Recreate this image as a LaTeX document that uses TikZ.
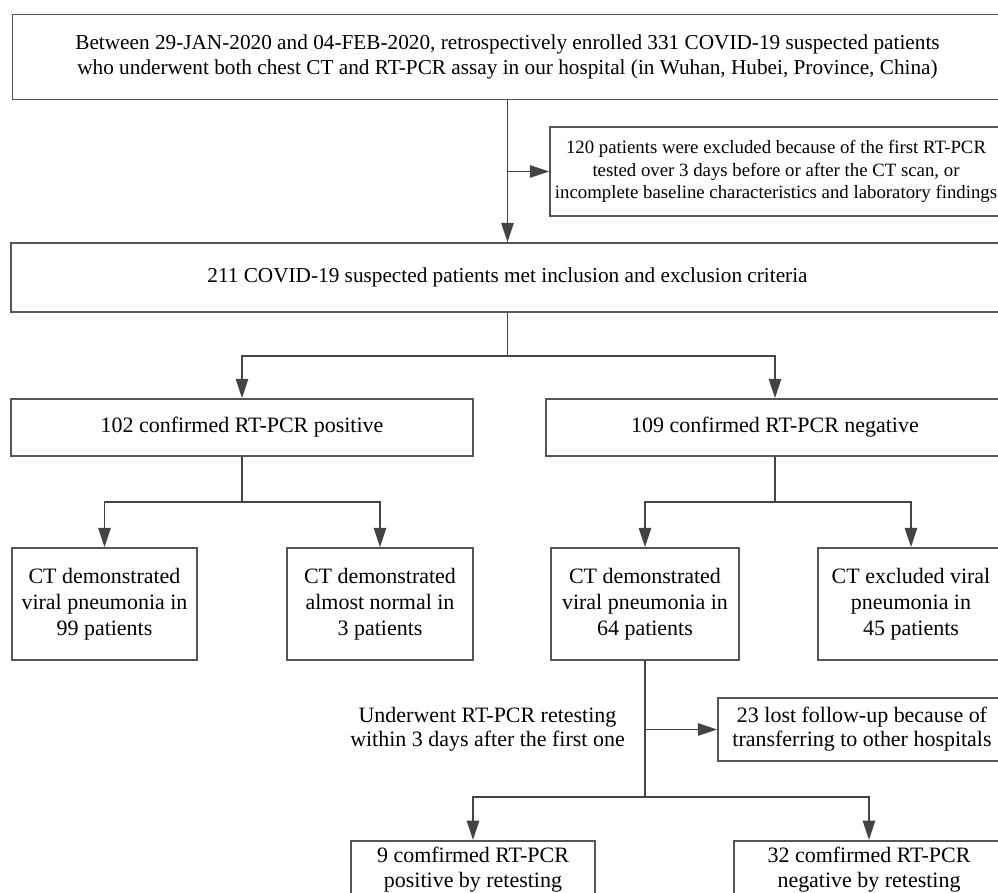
\documentclass[tikz,border=0pt]{standalone}
\usepackage{fontspec}
\setmainfont{Liberation Serif}
\usetikzlibrary{arrows.meta}
\definecolor{linegray}{HTML}{444444}
\definecolor{boxgray}{HTML}{555555}

\begin{document}
\begin{tikzpicture}[x=0.02cm,y=-0.02cm]
\clip (0,0) rectangle (998,893);
\begin{scope}[every node/.style={rectangle,draw=boxgray,line width=1pt,align=center,inner sep=0pt,
                                 font=\fontsize{12.5}{14.5}\selectfont}]
    \node[minimum width=19.8cm,minimum height=1.7cm,font=\fontsize{12.1}{14.2}\selectfont] (enrol) at (507.5,57)
        {Between 29-JAN-2020 and 04-FEB-2020, retrospectively enrolled 331 COVID-19 suspected patients\\
         who underwent both chest CT and RT-PCR assay in our hospital (in Wuhan, Hubei, Province, China)};
    \node[minimum width=9.04cm,minimum height=1.78cm,font=\fontsize{10.7}{12.8}\selectfont] (excl) at (776,171.5)
        {120 patients were excluded because of the first RT-PCR\\
         tested over 3 days before or after the CT scan, or\\
         incomplete baseline characteristics and laboratory findings};
    \node[minimum width=19.86cm,minimum height=1.38cm,font=\fontsize{12.1}{14.2}\selectfont] (met) at (507.5,277.5)
        {211 COVID-19 suspected patients met inclusion and exclusion criteria};
    \node[minimum width=9.24cm,minimum height=1.14cm] (pos) at (242,427.5) {102 confirmed RT-PCR positive};
    \node[minimum width=9.16cm,minimum height=1.14cm] (neg) at (775,427.5) {109 confirmed RT-PCR negative};
    \node[minimum width=3.7cm,minimum height=2.24cm,font=\fontsize{12.5}{14.8}\selectfont] (ct1) at (104.5,604)
        {CT demonstrated\\viral pneumonia in\\99 patients};
    \node[minimum width=3.72cm,minimum height=2.24cm,font=\fontsize{12.5}{14.8}\selectfont] (ct2) at (380,604)
        {CT demonstrated\\almost normal in\\3 patients};
    \node[minimum width=3.76cm,minimum height=2.24cm,font=\fontsize{12.5}{14.8}\selectfont] (ct3) at (645,604)
        {CT demonstrated\\viral pneumonia in\\64 patients};
    \node[minimum width=3.72cm,minimum height=2.24cm,font=\fontsize{12.5}{14.8}\selectfont] (ct4) at (911,604)
        {CT excluded viral\\pneumonia in\\45 patients};
    \node[minimum width=5.76cm,minimum height=1.26cm,font=\fontsize{12.5}{13.7}\selectfont] (lost) at (862,729.5)
        {23 lost follow-up because of\\transferring to other hospitals};
    \node[minimum width=4.88cm,minimum height=1.16cm,anchor=north] (rpos) at (473,840)
        {9 comfirmed RT-PCR\\positive by retesting};
    \node[minimum width=5.4cm,minimum height=1.16cm,anchor=north] (rneg) at (869,840)
        {32 comfirmed RT-PCR\\negative by retesting};
\end{scope}
\node[align=center,inner sep=0pt,font=\fontsize{12.5}{13.7}\selectfont] (retest) at (487.5,729)
    {Underwent RT-PCR retesting\\within 3 days after the first one};

% split points of the elbow connectors
\coordinate (s0) at (507.5,356);
\coordinate (s1) at (242,502);
\coordinate (s2) at (775,502);
\coordinate (s3) at (645,797);

\begin{scope}[>={Triangle[length=11pt,width=7pt]},
              gray_edge/.style={draw=linegray,line width=1.1pt}]
    \path [->] (enrol) edge [gray_edge] (met);
    \path [->] (enrol.south |- excl.west) edge [gray_edge] (excl.west);
    \draw [gray_edge] (met.south) -- (s0);
    \draw [gray_edge,->] (s0) -| (pos.north);
    \draw [gray_edge,->] (s0) -| (neg.north);
    \draw [gray_edge] (pos.south) -- (s1);
    \draw [gray_edge,->] (s1) -| (ct1.north);
    \draw [gray_edge,->] (s1) -| (ct2.north);
    \draw [gray_edge] (neg.south) -- (s2);
    \draw [gray_edge,->] (s2) -| (ct3.north);
    \draw [gray_edge,->] (s2) -| (ct4.north);
    \draw [gray_edge] (ct3.south) -- (s3);
    \path [->] (ct3.south |- lost.west) edge [gray_edge] (lost.west);
    \draw [gray_edge,->] (s3) -| (rpos.north);
    \draw [gray_edge,->] (s3) -| (rneg.north);
\end{scope}
\end{tikzpicture}
\end{document}
